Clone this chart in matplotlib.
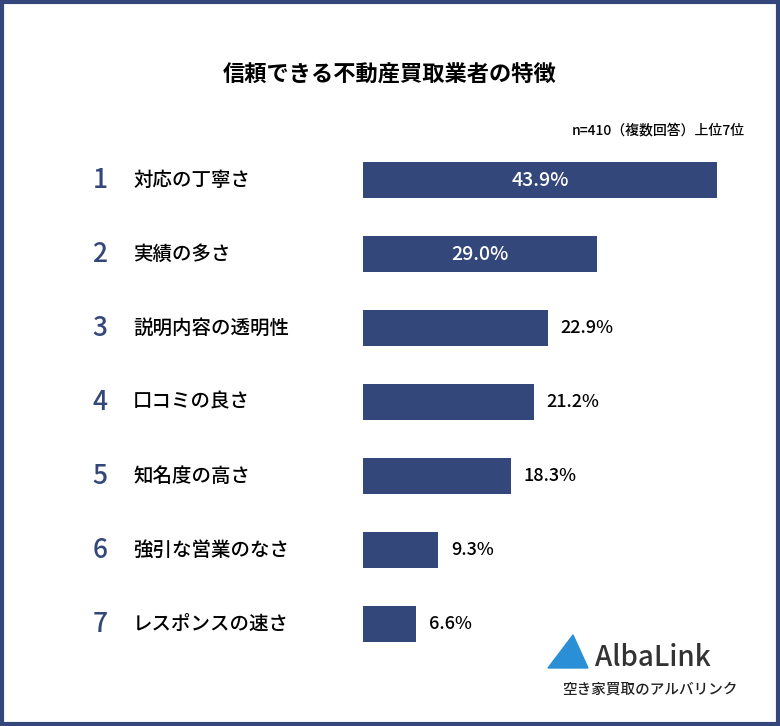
import matplotlib
matplotlib.use("Agg")
import matplotlib.pyplot as plt
from matplotlib.patches import Rectangle, Polygon

plt.rcParams['font.family'] = ['Noto Sans CJK JP', 'DejaVu Sans']

ranks = ["1", "2", "3", "4", "5", "6", "7"]
categories = ["対応の丁寧さ", "実績の多さ", "説明内容の透明性", "口コミの良さ", "知名度の高さ", "強引な営業のなさ", "レスポンスの速さ"]
values = [43.9, 29.0, 22.9, 21.2, 18.3, 9.3, 6.6]
navy = "#34477a"

W, H = 780, 726
fig = plt.figure(figsize=(7.8, 7.26), dpi=100)
fig.patches.append(Rectangle((0.003, 0.003), 0.994, 0.994, transform=fig.transFigure,
                             fill=False, edgecolor=navy, linewidth=3))

ax = fig.add_axes([363 / W, 1 - 661 / H, (717 - 363) / W, (661 - 143) / H])
ax.barh(range(len(values)), values, height=0.49, color=navy)
ax.set_xlim(0, 43.9)
ax.set_ylim(6.5, -0.5)
ax.axis("off")
for i, v in enumerate(values):
    if v > 25:
        ax.text(v / 2, i, f"{v:.1f}%", ha="center", va="center", color="white", fontsize=14, fontweight="medium")
    else:
        ax.text(v + 1.6, i, f"{v:.1f}%", ha="left", va="center", color="black", fontsize=13, fontweight="medium")
    yf = 1 - (180 + 74 * i) / H
    fig.text(100 / W, yf, ranks[i], ha="center", va="center", color=navy, fontsize=19, fontweight="medium")
    fig.text(133 / W, yf, categories[i], ha="left", va="center", color="black", fontsize=14, fontweight="medium")

fig.text(390 / W, 1 - 75 / H, "信頼できる不動産買取業者の特徴", ha="center", va="center", fontsize=16, fontweight="bold")
fig.text(745 / W, 1 - 130 / H, "n=410（複数回答）上位7位", ha="right", va="center", fontsize=10, fontweight="medium")

# logo
fig.patches.append(Polygon([(548 / W, 1 - 668 / H), (588 / W, 1 - 668 / H), (573 / W, 1 - 635 / H)],
                           closed=True, transform=fig.transFigure, color="#2b8fd6"))
fig.text(595 / W, 1 - 657 / H, "AlbaLink", ha="left", va="center", fontsize=20, color="#333333", fontweight="medium")
fig.text(650 / W, 1 - 690 / H, "空き家買取のアルバリンク", ha="center", va="center", fontsize=10.5, color="#222222", fontweight="medium")

fig.savefig("out.png", dpi=100)
